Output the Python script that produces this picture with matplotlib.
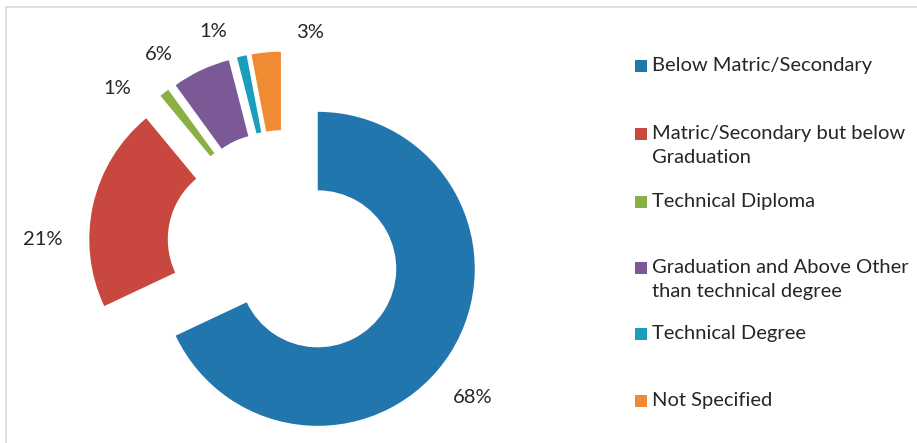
import matplotlib.pyplot as plt
import numpy as np
from matplotlib.patches import Rectangle

categories = ["Below Matric/Secondary",
              "Matric/Secondary but below\nGraduation",
              "Technical Diploma",
              "Graduation and Above Other\nthan technical degree",
              "Technical Degree",
              "Not Specified"]
shares = [68, 21, 1, 6, 1, 3]
colors = ["#2176ae", "#c8483f", "#8ab043", "#7b5996", "#1b9ebb", "#f08a33"]

# label placement around the centre (radius in pie radii, angle in degrees)
label_r = [1.53, 1.54, 1.475, 1.47, 1.45, 1.38]
label_ang = [-38.5, 178, 136.4, 122.9, 108.3, 83.3]
# legend first-line centres, pixels from top
legend_y = [66, 134, 202, 268, 334, 401]

W, H = 917, 443
plt.rcParams['font.family'] = ['Lato', 'DejaVu Sans']
fig = plt.figure(figsize=(W/100, H/100), dpi=100)
ax = fig.add_axes([0, 0, 1, 1])

wedges, texts, autotexts = ax.pie(shares, colors=colors, radius=1,
                                  explode=[0.25]*len(shares),
                                  startangle=90, counterclock=False,
                                  wedgeprops=dict(width=0.5, linewidth=0),
                                  autopct='%1.0f%%',
                                  textprops=dict(fontsize=14.5, color='#262626'))
for t, r, a in zip(autotexts, label_r, label_ang):
    t.set_position((r*np.cos(np.radians(a)), r*np.sin(np.radians(a))))
    t.set_ha('center')
    t.set_va('center')

cx, cy, scale = 284.6, 247.8, 157.0
ax.set_xlim(-cx/scale, (W-cx)/scale)
ax.set_ylim(-(H-cy)/scale, cy/scale)
ax.set_aspect('equal')
ax.axis('off')

# frame (left and top lines visible)
fig.add_artist(Rectangle((6/W, -0.1), 1.2, 1 - 7/H + 0.1, transform=fig.transFigure,
                         fill=False, edgecolor='#d9d9d9', linewidth=1.2))

for lab, col, y in zip(categories, colors, legend_y):
    fig.add_artist(Rectangle((635/W, 1 - (y + 6)/H), 12/W, 12/H,
                             transform=fig.transFigure, color=col, linewidth=0))
    fig.text(652/W, 1 - (y - 9)/H, lab, ha='left', va='top', fontsize=14.5,
             color='#262626', linespacing=1.5)

fig.savefig("out.png", dpi=100)
